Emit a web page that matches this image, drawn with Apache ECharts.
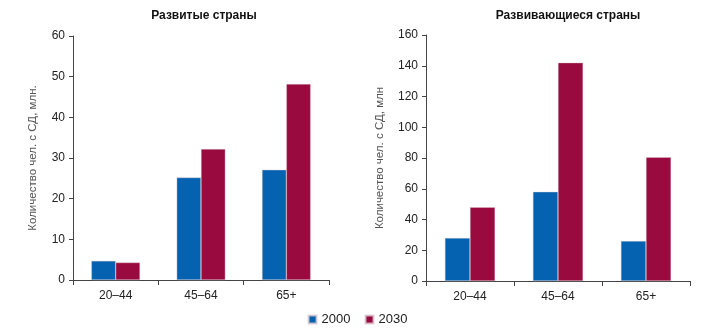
<!DOCTYPE html>
<html><head><meta charset="utf-8">
<script src="https://cdn.jsdelivr.net/npm/echarts@6/dist/echarts.min.js"></script>
<style>html,body{margin:0;padding:0;background:#fff}#c{width:715px;height:331px}</style>
</head><body><div id="c"></div>
<script>
const categories = ['20–44', '45–64', '65+'];
const seriesNames = ['2000', '2030'];
const developed2000 = [4.7, 25.2, 27.1];
const developed2030 = [4.3, 32.2, 48.2];
const developing2000 = [28, 58, 26];
const developing2030 = [48, 142, 80.5];
const titles = ['Развитые страны', 'Развивающиеся страны'];
const axisNames = ['Количество чел. с СД, млн.', 'Количество чел. с СД, млн'];

const blue = '#0562b0', red = '#990a3e';
const font = 'Liberation Sans';
function yAxis(idx, max, interval, name, gap) {
  return {
    gridIndex: idx, type: 'value', min: 0, max: max, interval: interval,
    name: name, nameLocation: 'middle', nameGap: gap,
    nameTextStyle: { color: '#555', fontSize: 11.5, fontFamily: font },
    axisLine: { show: true, lineStyle: { color: '#444' } },
    axisTick: { show: true, length: 4, lineStyle: { color: '#444' } },
    splitLine: { show: false },
    axisLabel: { color: '#222', fontSize: 12, fontFamily: font, margin: 8 }
  };
}
function xAxis(idx) {
  return {
    gridIndex: idx, type: 'category', data: categories,
    axisLine: { lineStyle: { color: '#444' } },
    axisTick: { show: true, length: 5, lineStyle: { color: '#444' } },
    axisLabel: { color: '#222', fontSize: 12, fontFamily: font, margin: 10 }
  };
}
function bar(name, data, idx, color) {
  return {
    name: name, type: 'bar', xAxisIndex: idx, yAxisIndex: idx, data: data,
    barGap: '0%', barCategoryGap: '43%',
    itemStyle: { color: color, borderColor: 'rgba(220,200,210,0.8)', borderWidth: 0.5 }
  };
}
const chart = echarts.init(document.getElementById('c'));
chart.setOption({
  animation: false,
  title: [
    { text: titles[0], left: 199, top: 5, textAlign: 'center',
      textStyle: { fontSize: 12, fontWeight: 'bold', color: '#111', fontFamily: font } },
    { text: titles[1], left: 563, top: 5, textAlign: 'center',
      textStyle: { fontSize: 12, fontWeight: 'bold', color: '#111', fontFamily: font } }
  ],
  legend: {
    data: seriesNames, left: 'center', top: 308, itemWidth: 8, itemHeight: 8, itemGap: 14,
    icon: 'rect', textStyle: { fontSize: 13, color: '#222', fontFamily: font }
  },
  grid: [
    { left: 73, right: 386, top: 36, bottom: 51 },
    { left: 426, right: 25, top: 35, bottom: 50 }
  ],
  xAxis: [xAxis(0), xAxis(1)],
  yAxis: [yAxis(0, 60, 10, axisNames[0], 34), yAxis(1, 160, 20, axisNames[1], 40)],
  series: [
    bar(seriesNames[0], developed2000, 0, blue),
    bar(seriesNames[1], developed2030, 0, red),
    bar(seriesNames[0], developing2000, 1, blue),
    bar(seriesNames[1], developing2030, 1, red)
  ]
});
</script></body></html>
